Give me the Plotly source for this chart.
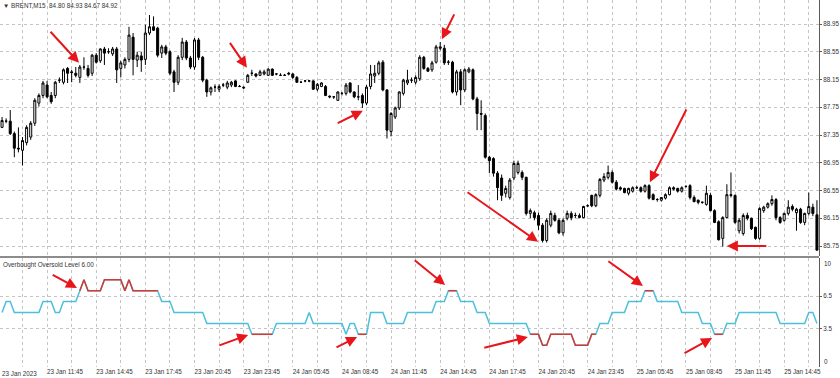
import plotly.graph_objects as go

# ---------------- data (BRENT M15 OHLC) ----------------
open_ = [
    87.46, 87.55, 87.55, 87.37, 87.16, 87.13, 87.24, 87.32, 87.52, 87.81,
    87.92, 88.07, 87.92, 87.92, 88.14, 88.11, 88.31, 88.26, 88.24, 88.18,
    88.33, 88.31, 88.24, 88.50, 88.42, 88.59, 88.55, 88.52, 88.59, 88.31,
    88.36, 88.44, 88.76, 88.43, 88.49, 88.44, 88.82, 88.91, 88.89, 88.53,
    88.62, 88.55, 88.26, 88.11, 88.47, 88.69, 88.46, 88.33, 88.72, 88.47,
    88.14, 87.97, 88.04, 88.01, 88.07, 88.04, 88.07, 88.13, 88.05, 88.04,
    88.11, 88.24, 88.23, 88.21, 88.23, 88.21, 88.30, 88.23, 88.21, 88.21,
    88.24, 88.23, 88.18, 88.11, 88.13, 88.13, 88.13, 88.01, 88.05, 88.05,
    87.91, 87.90, 87.85, 87.95, 87.95, 88.10, 87.97, 87.90, 87.92, 87.81,
    88.05, 88.20, 88.24, 88.40, 88.00, 87.40, 87.61, 87.74, 87.95, 88.10,
    88.14, 88.11, 88.16, 88.47, 88.31, 88.29, 88.40, 88.60, 88.60, 88.40,
    88.40, 87.97, 88.26, 88.00, 88.26, 88.29, 87.87, 87.66, 87.63, 87.03,
    87.01, 86.80, 86.73, 86.51, 86.45, 86.73, 86.81, 86.81, 86.74, 86.22,
    86.23, 86.19, 86.05, 85.83, 86.05, 86.19, 86.12, 85.94, 86.15, 86.22,
    86.19, 86.16, 86.16, 86.33, 86.48, 86.33, 86.48, 86.70, 86.74, 86.81,
    86.67, 86.59, 86.58, 86.51, 86.54, 86.59, 86.59, 86.54, 86.62, 86.49,
    86.42, 86.41, 86.44, 86.49, 86.59, 86.58, 86.54, 86.61, 86.62, 86.45,
    86.41, 86.38, 86.35, 86.48, 86.26, 86.10, 85.86, 86.16, 86.49, 86.48,
    85.97, 85.93, 86.19, 86.15, 86.02, 85.86, 86.26, 86.31, 86.36, 86.42,
    86.16, 86.12, 86.22, 86.32, 86.23, 86.28, 86.09, 86.22, 86.31, 86.20,
]
high_ = [
    87.61, 87.59, 87.71, 87.40, 87.46, 87.32, 87.49, 87.55, 87.88, 87.95,
    88.13, 88.13, 87.97, 88.13, 88.18, 88.31, 88.33, 88.29, 88.33, 88.36,
    88.47, 88.36, 88.52, 88.53, 88.60, 88.62, 88.60, 88.62, 88.62, 88.42,
    88.47, 88.91, 88.82, 88.55, 88.55, 88.94, 89.08, 89.06, 88.91, 88.65,
    88.65, 88.57, 88.29, 88.50, 88.75, 88.72, 88.49, 88.75, 88.75, 88.49,
    88.16, 88.05, 88.08, 88.08, 88.10, 88.13, 88.13, 88.14, 88.07, 88.05,
    88.23, 88.29, 88.24, 88.29, 88.29, 88.31, 88.31, 88.24, 88.24, 88.23,
    88.26, 88.24, 88.20, 88.13, 88.14, 88.14, 88.14, 88.10, 88.11, 88.07,
    87.92, 87.91, 87.98, 87.97, 88.10, 88.11, 87.98, 88.07, 87.95, 88.07,
    88.36, 88.36, 88.42, 88.43, 88.01, 87.68, 87.76, 87.98, 88.16, 88.29,
    88.18, 88.21, 88.50, 88.49, 88.33, 88.42, 88.65, 88.69, 88.65, 88.43,
    88.42, 88.29, 88.30, 88.31, 88.33, 88.31, 87.90, 87.85, 87.66, 87.05,
    87.03, 86.83, 86.78, 86.62, 86.73, 86.98, 86.98, 86.84, 86.75, 86.29,
    86.26, 86.23, 86.08, 86.15, 86.26, 86.23, 86.15, 86.15, 86.26, 86.25,
    86.23, 86.22, 86.33, 86.35, 86.49, 86.51, 86.73, 86.80, 86.91, 86.84,
    86.70, 86.61, 86.59, 86.59, 86.61, 86.62, 86.61, 86.64, 86.64, 86.51,
    86.44, 86.45, 86.51, 86.61, 86.61, 86.59, 86.61, 86.62, 86.64, 86.48,
    86.42, 86.39, 86.62, 86.51, 86.28, 86.12, 86.18, 86.64, 86.81, 86.49,
    86.15, 86.22, 86.23, 86.16, 86.03, 86.31, 86.33, 86.38, 86.48, 86.44,
    86.18, 86.23, 86.41, 86.35, 86.30, 86.30, 86.23, 86.52, 86.36, 86.41,
]
low_ = [
    87.45, 87.52, 87.35, 87.03, 87.10, 86.91, 87.20, 87.28, 87.48, 87.76,
    87.88, 87.88, 87.80, 87.88, 88.10, 88.08, 88.10, 88.11, 88.18, 88.10,
    88.29, 88.18, 88.20, 88.38, 88.39, 88.36, 88.52, 88.49, 88.10, 88.18,
    88.31, 88.40, 88.21, 88.33, 88.26, 88.36, 88.79, 88.85, 88.47, 88.46,
    88.50, 88.21, 87.97, 88.07, 88.43, 88.43, 88.30, 88.29, 88.43, 88.11,
    87.90, 87.92, 87.97, 87.97, 88.04, 88.01, 88.04, 88.04, 88.04, 88.01,
    88.10, 88.20, 88.18, 88.20, 88.21, 88.20, 88.20, 88.21, 88.20, 88.20,
    88.21, 88.16, 88.10, 88.10, 88.11, 88.11, 88.00, 87.98, 88.04, 87.91,
    87.88, 87.87, 87.84, 87.92, 87.92, 87.95, 87.88, 87.85, 87.74, 87.78,
    88.01, 88.10, 88.21, 87.98, 87.30, 87.33, 87.58, 87.71, 87.92, 88.07,
    88.10, 88.08, 88.13, 88.29, 88.26, 88.26, 88.38, 88.57, 88.36, 88.36,
    87.95, 87.92, 87.78, 87.97, 88.24, 87.85, 87.42, 87.42, 87.01, 86.80,
    86.75, 86.41, 86.40, 86.45, 86.42, 86.70, 86.78, 86.70, 86.19, 86.15,
    86.12, 85.98, 85.80, 85.80, 86.02, 86.10, 85.92, 85.90, 86.12, 86.12,
    86.15, 86.15, 86.15, 86.31, 86.31, 86.31, 86.45, 86.67, 86.71, 86.65,
    86.55, 86.55, 86.51, 86.48, 86.52, 86.57, 86.52, 86.52, 86.42, 86.41,
    86.39, 86.39, 86.42, 86.48, 86.55, 86.52, 86.52, 86.59, 86.42, 86.38,
    86.35, 86.36, 86.33, 86.25, 86.08, 85.83, 85.74, 86.15, 86.45, 86.07,
    85.93, 85.90, 86.12, 85.98, 85.84, 85.84, 86.23, 86.29, 86.33, 86.12,
    86.07, 86.10, 86.19, 86.25, 85.97, 86.07, 86.05, 86.19, 86.18, 85.69,
]
close_ = [
    87.56, 87.55, 87.37, 87.16, 87.15, 87.27, 87.46, 87.52, 87.85, 87.92,
    88.10, 87.90, 87.83, 88.11, 88.14, 88.29, 88.24, 88.25, 88.21, 88.33,
    88.33, 88.21, 88.50, 88.40, 88.59, 88.53, 88.55, 88.59, 88.29, 88.39,
    88.44, 88.79, 88.44, 88.50, 88.43, 88.82, 88.91, 88.86, 88.50, 88.62,
    88.53, 88.24, 88.11, 88.47, 88.69, 88.46, 88.33, 88.72, 88.47, 88.14,
    87.97, 88.03, 88.04, 88.05, 88.07, 88.10, 88.11, 88.05, 88.05, 88.03,
    88.21, 88.24, 88.20, 88.26, 88.26, 88.30, 88.21, 88.23, 88.21, 88.21,
    88.23, 88.18, 88.11, 88.11, 88.13, 88.13, 88.01, 88.08, 88.10, 87.92,
    87.90, 87.90, 87.97, 87.95, 88.07, 87.97, 87.90, 87.90, 87.81, 88.04,
    88.23, 88.24, 88.39, 88.00, 87.42, 87.66, 87.74, 87.97, 88.14, 88.14,
    88.14, 88.18, 88.47, 88.31, 88.27, 88.39, 88.62, 88.62, 88.39, 88.40,
    87.97, 88.26, 88.00, 88.29, 88.30, 87.87, 87.66, 87.65, 87.03, 86.98,
    86.80, 86.59, 86.48, 86.58, 86.70, 86.94, 86.94, 86.74, 86.22, 86.26,
    86.16, 86.05, 85.83, 86.12, 86.22, 86.12, 85.94, 86.12, 86.22, 86.16,
    86.19, 86.19, 86.32, 86.33, 86.33, 86.49, 86.71, 86.75, 86.81, 86.67,
    86.57, 86.57, 86.52, 86.58, 86.59, 86.59, 86.54, 86.62, 86.44, 86.42,
    86.42, 86.45, 86.49, 86.59, 86.57, 86.54, 86.59, 86.61, 86.45, 86.39,
    86.38, 86.38, 86.51, 86.26, 86.09, 85.84, 86.16, 86.49, 86.48, 86.09,
    86.12, 86.19, 86.15, 86.00, 85.86, 86.29, 86.31, 86.36, 86.42, 86.16,
    86.09, 86.22, 86.31, 86.28, 86.28, 86.09, 86.22, 86.32, 86.22, 85.69,
]
# Overbought / Oversold indicator values (one per bar)
osc = [
    5, 6, 6, 5, 5, 5, 5, 5, 5, 5,
    6, 6, 6, 5, 5, 6, 6, 6, 6, 7,
    8, 7, 7, 7, 7, 8, 8, 8, 8, 8,
    7, 8, 7, 7, 7, 7, 7, 7, 7, 6,
    6, 6, 5, 5, 5, 5, 5, 5, 5, 5,
    4, 4, 4, 4, 4, 4, 4, 4, 4, 4,
    4, 3, 3, 3, 3, 3, 3, 4, 4, 4,
    4, 4, 4, 4, 4, 5, 4, 4, 4, 4,
    4, 4, 4, 4, 3, 4, 4, 3, 3, 3,
    5, 5, 5, 5, 4, 4, 4, 4, 4, 5,
    5, 5, 5, 5, 5, 5, 6, 6, 6, 7,
    7, 7, 6, 6, 6, 6, 5, 5, 5, 4,
    4, 4, 4, 4, 4, 4, 4, 4, 4, 3,
    3, 3, 2, 2, 3, 3, 3, 3, 3, 3,
    2, 2, 2, 2, 3, 3, 4, 4, 4, 5,
    5, 5, 5, 6, 6, 6, 6, 7, 7, 7,
    6, 6, 6, 6, 6, 6, 5, 5, 5, 5,
    5, 4, 4, 4, 3, 3, 3, 4, 4, 4,
    5, 5, 5, 5, 5, 5, 5, 5, 5, 5,
    4, 4, 4, 4, 4, 4, 4, 5, 5, 4,
]
overbought = 6.5
oversold = 3.5

price_ticks = [85.75, 86.15, 86.55, 86.95, 87.35, 87.75, 88.15, 88.55, 88.95]
osc_ticks = [3.5, 6.5]
time_label_bars = [11, 23, 35, 47, 59, 71, 83, 95, 107, 119, 131, 143, 155, 167, 179, 191]
time_labels = ["23 Jan 11:45", "23 Jan 14:45", "23 Jan 17:45", "23 Jan 20:45",
               "23 Jan 23:45", "24 Jan 05:45", "24 Jan 08:45", "24 Jan 11:45",
               "24 Jan 14:45", "24 Jan 17:45", "24 Jan 20:45", "24 Jan 23:45",
               "25 Jan 05:45", "25 Jan 08:45", "25 Jan 11:45", "25 Jan 14:45"]
first_label = "23 Jan 2023"
header = "\u25bc BRENT,M15  84.80 84.93 84.67 84.92"
osc_title = "Overbought Oversold Level 6.00"

# red arrows drawn on the screenshot: (tip bar, tip value, tail bar, tail value)
price_arrows = [
    (18.8, 88.39, 11.5, 88.86),
    (59.8, 88.32, 55.4, 88.70),
    (88.1, 87.70, 81.6, 87.51),
    (107.4, 88.73, 110.6, 89.11),
    (130.9, 85.81, 113.3, 86.54),
    (158.2, 86.67, 167.3, 87.74),
    (177.0, 85.75, 187.0, 85.75),
]
osc_arrows = [
    (18.3, 7.25, 12.0, 8.53),
    (60.1, 2.94, 52.7, 1.93),
    (108.2, 7.52, 100.4, 9.9),
    (86.7, 2.75, 81.3, 1.74),
    (128.4, 2.75, 117.4, 1.74),
    (156.5, 7.43, 147.7, 9.8),
    (173.4, 2.66, 166.3, 1.19),
]

# ---------------- figure ----------------
n = len(close_)
bars = list(range(n))
grid_bars = list(range(5, n, 6))
grid_text = [time_labels[time_label_bars.index(b)] if b in time_label_bars else "" for b in grid_bars]


def in_zone(v):
    return v > overbought or v < oversold


red_vals = []
for i, v in enumerate(osc):
    nb = (i > 0 and in_zone(osc[i - 1])) or (i < n - 1 and in_zone(osc[i + 1]))
    red_vals.append(v if (in_zone(v) and nb) else None)

FONT = "Liberation Sans"
TXT = "#333333"
GRID = "#c4c4c4"
AXIS = "#5a5a5a"
BLUE = "#4cc0da"
RED = "#d23a33"
ARROW = "#e8161b"

fig = go.Figure()
fig.add_trace(go.Candlestick(
    x=bars, open=open_, high=high_, low=low_, close=close_,
    increasing=dict(line=dict(color="black", width=1), fillcolor="white"),
    decreasing=dict(line=dict(color="black", width=1), fillcolor="black"),
    whiskerwidth=0, xaxis="x", yaxis="y", showlegend=False, hoverinfo="skip",
))
fig.add_trace(go.Scatter(x=bars, y=osc, mode="lines", line=dict(color=BLUE, width=1.5),
                         xaxis="x2", yaxis="y2", showlegend=False, hoverinfo="skip"))
fig.add_trace(go.Scatter(x=bars, y=red_vals, mode="lines", line=dict(color=RED, width=1.5),
                         connectgaps=False, xaxis="x2", yaxis="y2", showlegend=False,
                         hoverinfo="skip"))

H_PLOT = 378 - 11
main_bottom = (H_PLOT - 256) / H_PLOT
osc_top = (H_PLOT - 258) / H_PLOT

common_x = dict(range=[-0.5, n - 0.5], tickvals=grid_bars, showgrid=True, gridcolor=GRID,
                griddash="dot", gridwidth=1, zeroline=False, domain=[0, 1])

fig.update_layout(
    width=840, height=378,
    margin=dict(l=0, r=21, t=0, b=11),
    paper_bgcolor="white", plot_bgcolor="white",
    font=dict(family=FONT, size=6.3, color=TXT),
    showlegend=False,
    xaxis=dict(**common_x, anchor="y", showticklabels=False, ticks="",
               rangeslider=dict(visible=False)),
    yaxis=dict(domain=[main_bottom, 1], range=[85.606, 89.296], side="right", anchor="x",
               tickvals=price_ticks, ticktext=[f"{v:.2f}" for v in price_ticks],
               showgrid=True, gridcolor=GRID, griddash="dot", zeroline=False,
               showline=True, linecolor=AXIS, linewidth=1, ticks="outside", ticklen=2,
               tickcolor=AXIS),
    xaxis2=dict(**common_x, anchor="y2", ticktext=grid_text, ticklabelposition="outside right",
                ticks="", showline=False),
    yaxis2=dict(domain=[0, osc_top], range=[0, 10], side="right", anchor="x2",
                tickvals=osc_ticks, ticktext=[str(v) for v in osc_ticks],
                showgrid=True, gridcolor=GRID, griddash="dot", zeroline=False,
                showline=True, linecolor=AXIS, linewidth=1, ticks="outside", ticklen=2,
                tickcolor=AXIS),
)

# panel separator
fig.add_shape(type="line", xref="paper", yref="paper", x0=0, x1=1,
              y0=(H_PLOT - 257) / H_PLOT, y1=(H_PLOT - 257) / H_PLOT,
              line=dict(color="#8c8c8c", width=2))

ann = []
ann.append(dict(text=header, xref="paper", yref="paper", x=0, y=1, xanchor="left",
                yanchor="top", xshift=1, yshift=0, showarrow=False,
                font=dict(family=FONT, size=6.3, color=TXT)))
ann.append(dict(text=osc_title, xref="paper", yref="paper", x=0, y=osc_top, xanchor="left",
                yanchor="top", xshift=1, yshift=-1, showarrow=False,
                font=dict(family=FONT, size=6.3, color=TXT)))
ann.append(dict(text="10", xref="paper", yref="y2", x=1, y=10, xanchor="left", yanchor="top",
                xshift=3, showarrow=False, font=dict(family=FONT, size=6.3, color=TXT)))
ann.append(dict(text="0", xref="paper", yref="y2", x=1, y=0, xanchor="left", yanchor="bottom",
                xshift=3, showarrow=False, font=dict(family=FONT, size=6.3, color=TXT)))
ann.append(dict(text=first_label, xref="paper", yref="paper", x=0, y=0, xanchor="left",
                yanchor="top", xshift=0, yshift=-1, showarrow=False,
                font=dict(family=FONT, size=6.3, color=TXT)))
for (tx, ty, sx, sy) in price_arrows:
    ann.append(dict(x=tx, y=ty, ax=sx, ay=sy, xref="x", yref="y", axref="x", ayref="y",
                    text="", showarrow=True, arrowhead=2, arrowsize=1.1, arrowwidth=2,
                    arrowcolor=ARROW, standoff=0))
for (tx, ty, sx, sy) in osc_arrows:
    ann.append(dict(x=tx, y=ty, ax=sx, ay=sy, xref="x2", yref="y2", axref="x2", ayref="y2",
                    text="", showarrow=True, arrowhead=2, arrowsize=1.1, arrowwidth=2,
                    arrowcolor=ARROW, standoff=0))
fig.update_layout(annotations=ann)

fig.write_html("out.html")
